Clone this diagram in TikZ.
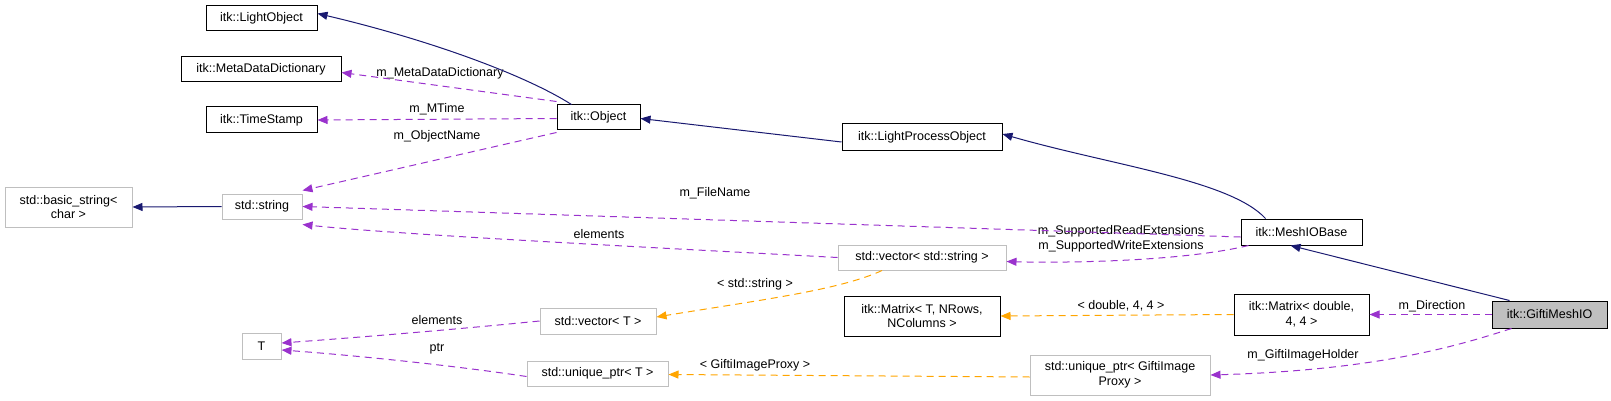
\documentclass[tikz,border=0pt]{standalone}
\usepackage{fontspec}
\setmainfont{Liberation Sans}
\usetikzlibrary{arrows.meta}
\definecolor{inh}{HTML}{191970}
\definecolor{use}{HTML}{9A32CD}
\definecolor{tpl}{HTML}{FFA500}
\definecolor{gbd}{HTML}{BFBFBF}
\begin{document}
\begin{tikzpicture}[x=1pt,y=-1pt,
  every node/.style={font=\fontsize{12.5}{14.5}\selectfont, inner sep=0pt, align=center},
  box/.style={draw=black, line width=1pt, fill=white},
  gbox/.style={draw=gbd, line width=1pt, fill=white},
  lbl/.style={fill=none},
  inhe/.style={draw=inh, line width=1pt, -{Triangle[length=10pt,width=8pt]}},
  usee/.style={draw=use, line width=1pt, dash pattern=on 7pt off 5pt, -{Triangle[length=10pt,width=8pt]}},
  tple/.style={draw=tpl, line width=1pt, dash pattern=on 7pt off 5pt, -{Triangle[length=10pt,width=8pt]}}]
\useasboundingbox (0,0) rectangle (1611,401);
% nodes
\node[box, minimum width=111pt, minimum height=25pt] (lo) at (261.5,18.5) {itk::LightObject};
\node[box, minimum width=160pt, minimum height=25pt] (mdd) at (261,69.5) {itk::MetaDataDictionary};
\node[box, minimum width=111pt, minimum height=26pt] (ts) at (261.5,120) {itk::TimeStamp};
\node[box, minimum width=83pt, minimum height=25pt] (obj) at (598.5,117.5) {itk::Object};
\node[box, minimum width=160pt, minimum height=26pt] (lpo) at (922,137) {itk::LightProcessObject};
\node[gbox, minimum width=127pt, minimum height=40pt] (bs) at (68.5,207) {std::basic\_string<\\char >};
\node[gbox, minimum width=80pt, minimum height=25pt] (str) at (262,206.5) {std::string};
\node[box, minimum width=121pt, minimum height=26pt] (mio) at (1301.5,232) {itk::MeshIOBase};
\node[gbox, minimum width=168pt, minimum height=25pt] (vs) at (922,257.5) {std::vector< std::string >};
\node[box, minimum width=156pt, minimum height=40pt] (mt) at (922,316) {itk::Matrix< T, NRows,\\NColumns >};
\node[box, minimum width=135pt, minimum height=41pt] (md) at (1301.5,314.5) {itk::Matrix< double,\\4, 4 >};
\node[box, fill=gbd, minimum width=115pt, minimum height=27pt] (gm) at (1549.5,314.5) {itk::GiftiMeshIO};
\node[gbox, minimum width=39pt, minimum height=26pt] (t) at (261.5,346) {T};
\node[gbox, minimum width=116pt, minimum height=26pt] (vt) at (598,321) {std::vector< T >};
\node[gbox, minimum width=141pt, minimum height=25pt] (ut) at (597.5,373.5) {std::unique\_ptr< T >};
\node[gbox, minimum width=180pt, minimum height=40pt] (ug) at (1120,375) {std::unique\_ptr< GiftiImage\\Proxy >};
% labels
\node[lbl] (l1) at (440,73) {m\_MetaDataDictionary};
\node[lbl] (l2) at (437,109) {m\_MTime};
\node[lbl] (l3) at (437,136) {m\_ObjectName};
\node[lbl] (l4) at (715,193) {m\_FileName};
\node[lbl] (l5) at (599,234) {elements};
\node[lbl] (l6) at (1121,239) {m\_SupportedReadExtensions\\m\_SupportedWriteExtensions};
\node[lbl] (l7) at (1432,306) {m\_Direction};
\node[lbl] (l8) at (1303,355) {m\_GiftiImageHolder};
\node[lbl] (l9) at (437,320) {elements};
\node[lbl] (l10) at (437,349) {ptr};
\node[lbl] (l11) at (755,284) {< std::string >};
\node[lbl] (l12) at (1121,306) {< double, 4, 4 >};
\node[lbl] (l13) at (755,365) {< GiftiImageProxy >};
% inheritance
\draw[inhe] ([xshift=15pt]obj.north west) .. controls (525,75) and (430,40) .. ([yshift=5pt]lo.east);
\draw[inhe] ([yshift=-5pt]lpo.west) -- ([yshift=-1pt]obj.east);
\draw[inhe] ([xshift=25pt]mio.north west) .. controls (1230,180) and (1110,165) .. ([yshift=3pt]lpo.east);
\draw[inhe] ([xshift=18pt]gm.north west) -- ([xshift=50pt]mio.south west);
\draw[inhe] (str.west) -- (bs.east);
% usage
\draw[usee] ([yshift=3pt]obj.north west) -- ([yshift=-3pt]mdd.east);
\draw[usee] ([yshift=-1pt]obj.west) -- (ts.east);
\draw[usee] ([yshift=-2pt]obj.south west) -- ([yshift=3pt]str.north east);
\draw[usee] ([yshift=-5pt]mio.west) -- (str.east);
\draw[usee] (vs.west) .. controls (700,250) and (400,235) .. ([yshift=-5pt]str.south east);
\draw[usee] ([xshift=8pt]mio.south west) .. controls (1180,262) and (1060,263) .. ([yshift=-4pt]vs.east);
\draw[usee] (gm.west) -- (md.east);
\draw[usee] ([xshift=20pt]gm.south west) .. controls (1460,345) and (1380,370) .. (ug.east);
\draw[usee] (vt.west) .. controls (450,330) and (350,338) .. ([yshift=3pt]t.east);
\draw[usee] ([yshift=-3pt]ut.west) .. controls (450,365) and (350,355) .. ([yshift=-4pt]t.east);
% template
\draw[tple] ([xshift=-40pt]vs.south) .. controls (840,290) and (760,300) .. ([yshift=4pt]vt.east);
\draw[tple] (md.west) -- (mt.east);
\draw[tple] ([yshift=-2pt]ug.west) -- ([yshift=-1pt]ut.east);
\end{tikzpicture}
\end{document}
